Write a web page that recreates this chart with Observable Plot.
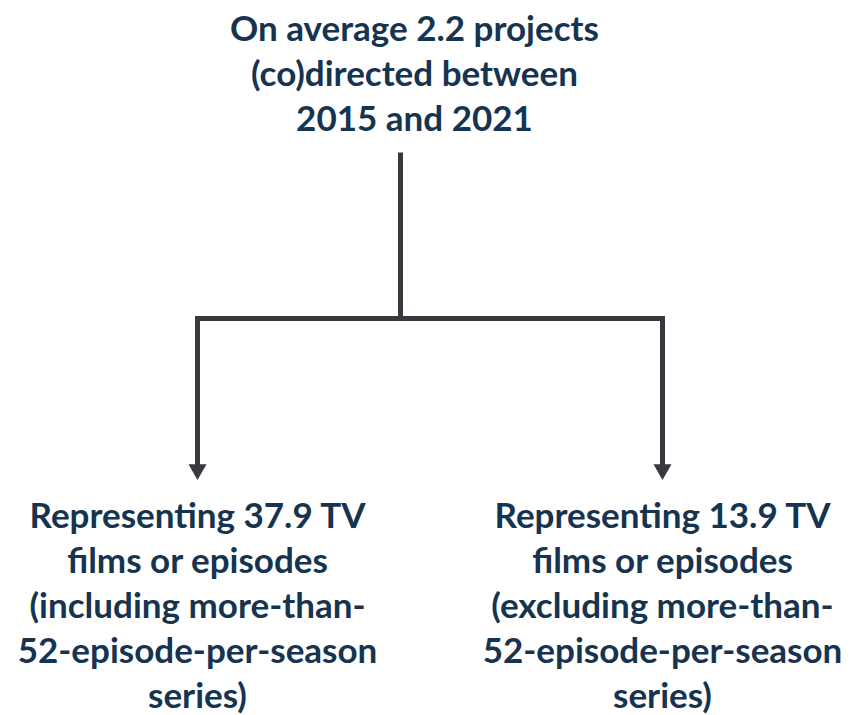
<!DOCTYPE html>
<html>
<head>
<meta charset="utf-8">
<script src="https://cdn.jsdelivr.net/npm/d3@7"></script>
<script src="https://cdn.jsdelivr.net/npm/@observablehq/plot@0.6"></script>
<style>
  html, body { margin: 0; padding: 0; background: #ffffff; }
  #chart svg { display: block; }
</style>
</head>
<body>
<div id="chart"></div>
<script>
// Node texts
const rootLabel = ["On average 2.2 projects", "(co)directed between", "2015 and 2021"];
const childLabels = [
  ["Representing 37.9 TV", "films or episodes", "(including more-than-", "52-episode-per-season", "series)"],
  ["Representing 13.9 TV", "films or episodes", "(excluding more-than-", "52-episode-per-season", "series)"]
];
// Diagram layout (pixel space)
const rootPos = {x: 414, y: 71};
const stem = {x: 400, y1: 152, y2: 318};
const barY = 318;
const childX = [197, 662];
const arrowEndY = 466;
const arrowHeadY = 469;
const childTextY = 603;

const textColor = "#16334f";
const lineColor = "#38393e";

const rootData = [{x: rootPos.x, y: rootPos.y, text: rootLabel.join("\n")}];
const childData = childLabels.map((l, i) => ({x: childX[i], y: childTextY, text: l.join("\n")}));
const links = [
  {x1: stem.x, y1: stem.y1, x2: stem.x, y2: stem.y2},
  {x1: childX[0] - 2.5, y1: barY, x2: childX[1] + 2.5, y2: barY},
  ...childX.map(x => ({x1: x, y1: barY - 2.5, x2: x, y2: arrowEndY}))
];
const heads = childX.map(x => ({x, y: arrowHeadY}));

const chart = Plot.plot({
  width: 851,
  height: 715,
  margin: 0,
  x: {domain: [0, 851], range: [0, 851], axis: null},
  y: {domain: [0, 715], range: [0, 715], axis: null},
  style: {background: "#ffffff"},
  marks: [
    Plot.link(links, {x1: "x1", y1: "y1", x2: "x2", y2: "y2", stroke: lineColor, strokeWidth: 5, strokeLinecap: "butt"}),
    Plot.dot(heads, {x: "x", y: "y", symbol: "triangle", r: 6.7, rotate: 180, fill: lineColor, stroke: "none"}),
    Plot.text(rootData, {x: "x", y: "y", text: "text", fill: textColor, fontSize: 35, fontWeight: "bold", lineHeight: 1.286, fontFamily: "Lato, sans-serif", textAnchor: "middle", lineAnchor: "middle"}),
    Plot.text(childData, {x: "x", y: "y", text: "text", fill: textColor, fontSize: 35, fontWeight: "bold", lineHeight: 1.286, fontFamily: "Lato, sans-serif", textAnchor: "middle", lineAnchor: "middle"})
  ]
});
document.getElementById("chart").appendChild(chart);
</script>
</body>
</html>
